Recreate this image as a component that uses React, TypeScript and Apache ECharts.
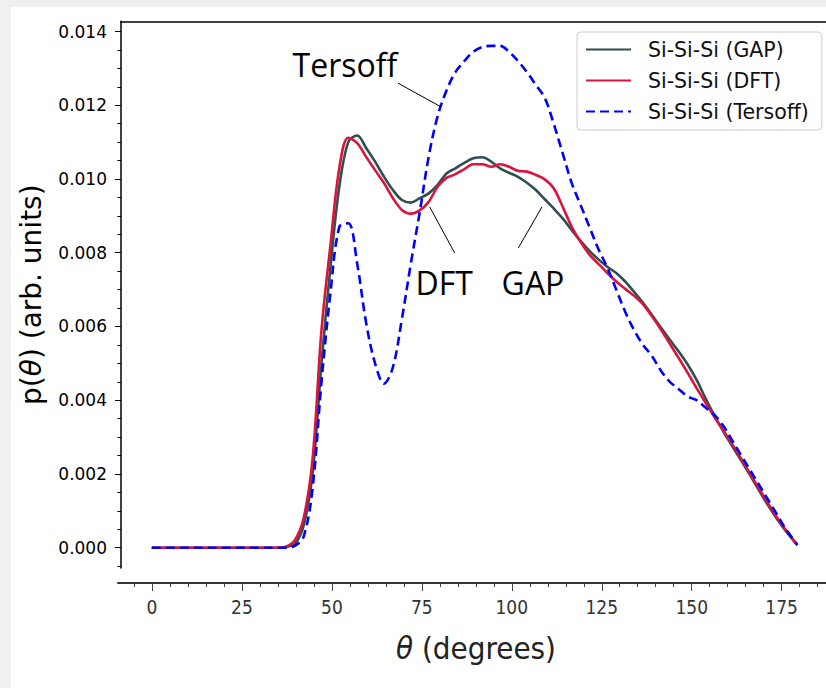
import React, { useEffect, useRef } from "react";
import * as echarts from "echarts";

// ---- data ----
const theta = [
  0, 5, 10, 15, 20, 25, 30, 35, 37.5, 40, 42.5, 45, 47.5, 50, 52.5, 55, 57.5, 60,
  62.5, 65, 67.5, 70, 72.5, 75, 77.5, 80, 82.5, 85, 87.5, 90, 92.5, 95, 97.5, 100,
  102.5, 105, 107.5, 110, 112.5, 115, 117.5, 120, 122.5, 125, 127.5, 130, 132.5,
  135, 137.5, 140, 142.5, 145, 147.5, 150, 152.5, 155, 157.5, 160, 162.5, 165,
  167.5, 170, 172.5, 175, 177.5, 180.7,
];

const gapValues = [
  0, 0, 0, 0, 0, 0, 0, 0, 0.00002, 0.0001, 0.0006, 0.002, 0.005, 0.0076, 0.0098,
  0.011, 0.01118, 0.01084, 0.01047, 0.01006, 0.0097, 0.00943, 0.00936, 0.00948,
  0.00961, 0.00984, 0.01015, 0.01029, 0.01044, 0.01056, 0.01059, 0.01047, 0.01029,
  0.01017, 0.01006, 0.0099, 0.0097, 0.00945, 0.0092, 0.00893, 0.00862, 0.00832,
  0.00805, 0.00782, 0.00762, 0.00745, 0.00722, 0.00694, 0.00664, 0.00631, 0.00597,
  0.00564, 0.00532, 0.00497, 0.00455, 0.00405, 0.00358, 0.00315, 0.00275, 0.00236,
  0.00196, 0.00155, 0.00115, 0.00078, 0.00045, 0.00007,
];

const dftValues = [
  0, 0, 0, 0, 0, 0, 0, 0, 0.00003, 0.0002, 0.0008, 0.0024, 0.0059, 0.0082, 0.0103,
  0.01112, 0.01097, 0.0106, 0.01024, 0.00989, 0.00948, 0.00916, 0.00906, 0.00915,
  0.00938, 0.00979, 0.01003, 0.01013, 0.01027, 0.0104, 0.0104, 0.01033, 0.0104,
  0.01033, 0.01022, 0.0102, 0.01011, 0.00999, 0.00975, 0.00925, 0.00871, 0.0083,
  0.00795, 0.0077, 0.00745, 0.00722, 0.00702, 0.00683, 0.0066, 0.00628, 0.00592,
  0.00553, 0.00514, 0.00474, 0.00433, 0.00393, 0.00354, 0.00318, 0.0028, 0.00241,
  0.002, 0.0016, 0.0012, 0.00082, 0.00048, 0.00007,
];

const tersoffValues = [
  0, 0, 0, 0, 0, 0, 0, 0, 0, 0.00005, 0.0003, 0.0016, 0.0045, 0.0069, 0.0087,
  0.0088, 0.0077, 0.0061, 0.005, 0.00445, 0.0049, 0.0062, 0.0077, 0.0091, 0.0106,
  0.0117, 0.0124, 0.0129, 0.0132, 0.01345, 0.01358, 0.01361, 0.01361, 0.01345,
  0.0132, 0.0129, 0.01255, 0.0122, 0.0115, 0.0107, 0.0099, 0.0093, 0.0087, 0.0081,
  0.0076, 0.007, 0.0064, 0.0059, 0.0055, 0.0052, 0.0048, 0.0045, 0.0043, 0.0041,
  0.004, 0.0038, 0.0036, 0.0033, 0.0029, 0.0025, 0.0021, 0.0017, 0.0013, 0.0009,
  0.0005, 0.00008,
];

const seriesNames = ["Si-Si-Si (GAP)", "Si-Si-Si (DFT)", "Si-Si-Si (Tersoff)"];
const seriesColors = ["#2f4f4f", "#dc143c", "#0000ff"];

// annotation texts with their anchor (data coords) and pointer lines
const annotationTexts = ["Tersoff", "DFT", "GAP"];
const annotationAnchors = [
  [54.06, 0.01313],
  [81.85, 0.00722],
  [106.7, 0.00722],
];
const annotationLines = [
  [[68.9, 0.0126], [80.9, 0.01196]],
  [[77.8, 0.00924], [84.8, 0.00799]],
  [[109.2, 0.00924], [102.6, 0.00813]],
];

// ---- layout (pixels) ----
const W = 826;
const H = 688;
const PX0 = 152; // pixel of theta = 0
const PXS = 3.598; // px per degree
const PY0 = 547.7; // pixel of p = 0
const PYS = 36871; // px per unit
const G_LEFT = 121;
const G_TOP = 21.3;
const G_RIGHT_PX = 831;
const G_BOTTOM_PX = 568;
const XAXIS_PX = 583;

const xFromPx = (px: number) => (px - PX0) / PXS;
const yFromPx = (py: number) => (PY0 - py) / PYS;

const FONT = "'DejaVu Sans', sans-serif";
const FONT_COND = "'DejaVu Sans Condensed', 'DejaVu Sans', sans-serif";

export default function App() {
  const ref = useRef<HTMLDivElement>(null);

  useEffect(() => {
    if (!ref.current) return;
    const chart = echarts.init(ref.current, undefined, { renderer: "svg" });

    const mk = (vals: number[]) => theta.map((t, i) => [t, vals[i]]);
    const allVals = [gapValues, dftValues, tersoffValues];

    const hidden = (gridIndex: number) => ({
      type: "value",
      gridIndex,
      show: false,
      min: 0,
      max: 1,
      axisLine: { show: false, onZero: false },
    });

    const bgRect = {
      id: "bg",
      type: "rect",
      z: -10,
      silent: true,
      shape: { x: 11, y: 7, width: W - 11, height: H - 7 },
      style: { fill: "#ffffff" },
    };

    const option: any = {
      animation: false,
      backgroundColor: "#f0f0f0",
      grid: [
        // 0: data grid
        {
          left: G_LEFT,
          top: G_TOP,
          width: G_RIGHT_PX - G_LEFT,
          height: G_BOTTOM_PX - G_TOP,
        },
        // 1: bottom spine (slightly wider than data grid)
        {
          left: G_LEFT - 3,
          width: G_RIGHT_PX - G_LEFT + 3,
          top: 400,
          height: XAXIS_PX - 400,
        },
        // 2: x minor ticks (-5..185)
        {
          left: PX0 - 5 * PXS,
          width: 190 * PXS,
          top: 400,
          height: XAXIS_PX - 400,
        },
        // 3: x major ticks + labels (0..175)
        {
          left: PX0,
          width: 175 * PXS,
          top: 400,
          height: XAXIS_PX - 400,
        },
        // 4: y major ticks + labels (0..0.014)
        {
          left: G_LEFT,
          width: 100,
          top: PY0 - 0.014 * PYS,
          height: 0.014 * PYS,
        },
        // 5: y minor ticks (-0.0005..0.014)
        {
          left: G_LEFT,
          width: 100,
          top: PY0 - 0.014 * PYS,
          height: 0.0145 * PYS,
        },
      ],
      xAxis: [
        {
          type: "value",
          gridIndex: 0,
          position: "top",
          min: xFromPx(G_LEFT),
          max: xFromPx(G_RIGHT_PX),
          axisLine: { show: true, onZero: false, lineStyle: { color: "#000", width: 1.5 } },
          axisTick: { show: false },
          axisLabel: { show: false },
          splitLine: { show: false },
        },
        {
          type: "value",
          gridIndex: 1,
          position: "bottom",
          min: 0,
          max: 1,
          axisLine: { show: true, onZero: false, lineStyle: { color: "#333", width: 2 } },
          axisTick: { show: false },
          axisLabel: { show: false },
          splitLine: { show: false },
        },
        {
          type: "value",
          gridIndex: 2,
          min: -5,
          max: 185,
          interval: 5,
          axisLine: { show: false, onZero: false },
          axisTick: { show: true, length: 4, lineStyle: { color: "#444", width: 1 } },
          axisLabel: { show: false },
          splitLine: { show: false },
        },
        {
          type: "value",
          gridIndex: 3,
          min: 0,
          max: 175,
          interval: 25,
          axisLine: { show: false, onZero: false },
          axisTick: { show: true, length: 8, lineStyle: { color: "#444", width: 1 } },
          axisLabel: {
            show: true,
            margin: 14,
            fontFamily: FONT_COND,
            fontSize: 19,
            color: "#333",
          },
          splitLine: { show: false },
        },
        hidden(4),
        hidden(5),
      ],
      yAxis: [
        {
          type: "value",
          gridIndex: 0,
          min: yFromPx(G_BOTTOM_PX),
          max: yFromPx(G_TOP),
          axisLine: { show: true, onZero: false, lineStyle: { color: "#000", width: 1.5 } },
          axisTick: { show: false },
          axisLabel: { show: false },
          splitLine: { show: false },
          name: "p({i|θ}) (arb. units)",
          nameLocation: "middle",
          nameGap: 76,
          nameTextStyle: {
            fontFamily: FONT,
            fontSize: 28,
            color: "#000",
            rich: {
              i: { fontFamily: FONT, fontSize: 28, fontStyle: "italic", color: "#000" },
            },
          },
        },
        {
          type: "value",
          gridIndex: 1,
          show: false,
          min: 0,
          max: 1,
          axisLine: { show: false, onZero: false },
        },
        hidden(2),
        hidden(3),
        {
          type: "value",
          gridIndex: 4,
          min: 0,
          max: 0.014,
          interval: 0.002,
          axisLine: { show: false, onZero: false },
          axisTick: { show: true, length: 6, lineStyle: { color: "#000", width: 1 } },
          axisLabel: {
            show: true,
            margin: 14,
            fontFamily: FONT,
            fontSize: 17,
            color: "#000",
            formatter: (v: number) => v.toFixed(3),
          },
          splitLine: { show: false },
        },
        {
          type: "value",
          gridIndex: 5,
          min: -0.0005,
          max: 0.014,
          interval: 0.0005,
          axisLine: { show: false, onZero: false },
          axisTick: { show: true, length: 3.5, lineStyle: { color: "#000", width: 1 } },
          axisLabel: { show: false },
          splitLine: { show: false },
        },
      ],
      legend: {
        orient: "vertical",
        left: 577,
        top: 32,
        padding: [7, 13, 8, 8],
        itemWidth: 45,
        itemHeight: 14,
        itemGap: 10,
        backgroundColor: "#fff",
        borderColor: "#cccccc",
        borderWidth: 1,
        borderRadius: 4,
        itemStyle: { opacity: 0 },
        textStyle: {
          fontFamily: FONT,
          fontSize: 20.5,
          color: "#111",
          padding: [0, 0, 0, 12],
        },
        data: seriesNames,
      },
      series: seriesNames.map((name, i) => ({
        name,
        type: "line",
        xAxisIndex: 0,
        yAxisIndex: 0,
        data: mk(allVals[i]),
        symbol: "none",
        smooth: 0.35,
        z: 3 + i,
        lineStyle: {
          color: seriesColors[i],
          width: 2.6,
          type: i === 2 ? [9, 5] : "solid",
        },
        itemStyle: { color: seriesColors[i] },
      })),
      graphic: [bgRect],
    };

    chart.setOption(option);

    const conv = (p: number[]) =>
      chart.convertToPixel({ gridIndex: 0 }, p) as unknown as number[];

    // x-axis title centred under the data grid
    const titleX = (G_LEFT + G_RIGHT_PX) / 2;

    const extra: any[] = [bgRect];
    extra.push({
      id: "xname",
      type: "text",
      z: 10,
      silent: true,
      x: titleX,
      y: 648,
      style: {
        text: "{i|θ} (degrees)",
        fontFamily: FONT_COND,
        fontSize: 31,
        fill: "#222",
        align: "center",
        verticalAlign: "middle",
        rich: {
          i: { fontFamily: FONT_COND, fontSize: 31, fontStyle: "italic", fill: "#222" },
        },
      },
    });
    annotationTexts.forEach((t, i) => {
      const a = conv(annotationAnchors[i]);
      const l0 = conv(annotationLines[i][0]);
      const l1 = conv(annotationLines[i][1]);
      extra.push({
        id: "ann-line-" + i,
        type: "line",
        z: 10,
        silent: true,
        shape: { x1: l0[0], y1: l0[1], x2: l1[0], y2: l1[1] },
        style: { stroke: "#000", lineWidth: 1 },
      });
      extra.push({
        id: "ann-text-" + i,
        type: "text",
        z: 10,
        silent: true,
        x: a[0],
        y: a[1] + 1,
        style: {
          text: t,
          fontFamily: "'Open Sans', 'Noto Sans', sans-serif",
          fontSize: 32,
          fill: "#000",
          align: "center",
          verticalAlign: "middle",
        },
      });
    });
    chart.setOption({ graphic: extra });

    return () => chart.dispose();
  }, []);

  return (
    <div
      ref={ref}
      style={{ position: "fixed", left: 0, top: 0, width: W, height: H }}
    />
  );
}
